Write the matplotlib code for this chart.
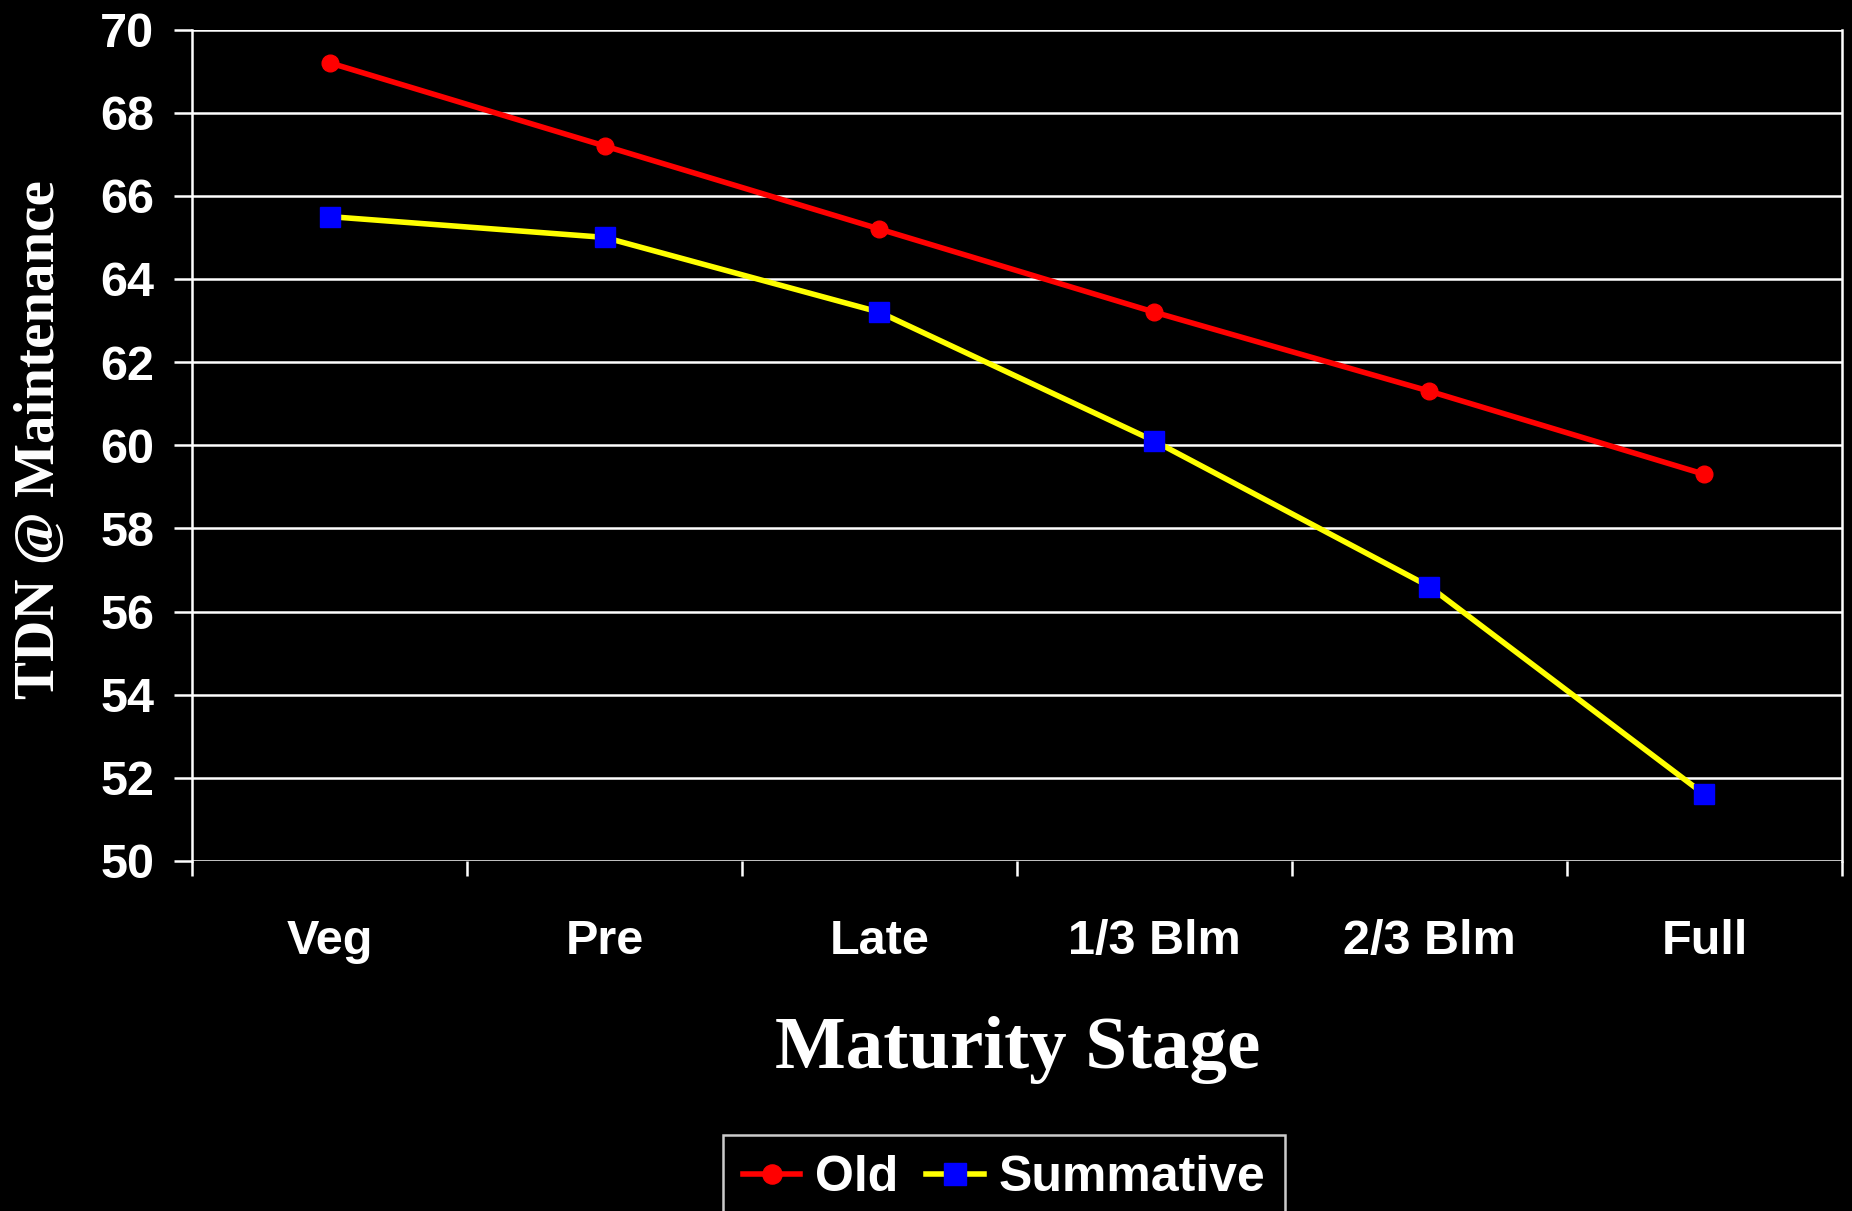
import matplotlib
matplotlib.use('Agg')
import matplotlib.pyplot as plt
from matplotlib.font_manager import FontProperties

# TDN at maintenance by forage maturity stage
stages = ['Veg', 'Pre', 'Late', '1/3 Blm', '2/3 Blm', 'Full']
old = [69.2, 67.2, 65.2, 63.2, 61.3, 59.3]
summative = [65.5, 65.0, 63.2, 60.1, 56.6, 51.6]
yticks = list(range(50, 71, 2))

W, H = 1852, 1211
fig = plt.figure(figsize=(W / 100, H / 100), dpi=100, facecolor='black')
ax = fig.add_axes([192 / W, 1 - 861 / H, (1842 - 192) / W, (861 - 29.5) / H])
ax.set_facecolor('black')

x = list(range(len(stages)))
ax.plot(x, old, color='red', lw=4, marker='o', ms=12, mfc='red', mec='red', label='Old')
ax.plot(x, summative, color='yellow', lw=4, marker='s', ms=14, mfc='blue', mec='blue',
        label='Summative')

ax.set_xlim(-0.5, len(stages) - 0.5)
ax.set_ylim(50, 70)
ax.set_yticks(yticks)
ax.set_yticklabels([str(v) for v in yticks])
# category boundaries get the tick marks, names sit between them
ax.set_xticks([i - 0.5 for i in range(len(stages) + 1)])
ax.set_xticklabels([])
ax.set_xticks(x, minor=True)
ax.set_xticklabels(stages, minor=True)

ax.grid(axis='y', color='white', lw=1.8)
ax.set_axisbelow(True)
for side in ['left', 'right']:
    ax.spines[side].set_color('white')
    ax.spines[side].set_linewidth(1.8)
for side in ['top', 'bottom']:
    ax.spines[side].set_visible(False)

tickfont = FontProperties(family='Liberation Sans', weight='bold', size=35)
ax.tick_params(axis='y', colors='white', length=13, width=1.8, pad=14)
ax.tick_params(axis='x', which='major', colors='white', length=11, width=1.8, direction='out')
ax.tick_params(axis='x', which='minor', colors='white', length=0, pad=42)
for lab in ax.get_yticklabels() + ax.get_xticklabels(minor=True):
    lab.set_fontproperties(tickfont)
    lab.set_color('white')

fig.text(40 / W, 1 - 440 / H, 'TDN @ Maintenance', rotation=90, ha='center', va='center',
         color='white', family='Liberation Serif', weight='bold', size=41)
fig.text(1018 / W, 1 - 1050 / H, 'Maturity Stage', ha='center', va='center',
         color='white', family='Liberation Serif', weight='bold', size=54)

leg = fig.legend(loc='upper center', bbox_to_anchor=(1004 / W, 1 - 1135 / H), ncol=2,
                 frameon=True, facecolor='black', edgecolor='white', fancybox=False,
                 borderaxespad=0, handlelength=1.15, handletextpad=0.3, columnspacing=0.55,
                 borderpad=0.4, markerscale=1.15,
                 prop=dict(family='Liberation Sans', weight='bold', size=36))
leg.get_frame().set_linewidth(1.8)
for t in leg.get_texts():
    t.set_color('white')

fig.savefig('out.png', dpi=100, facecolor='black')
